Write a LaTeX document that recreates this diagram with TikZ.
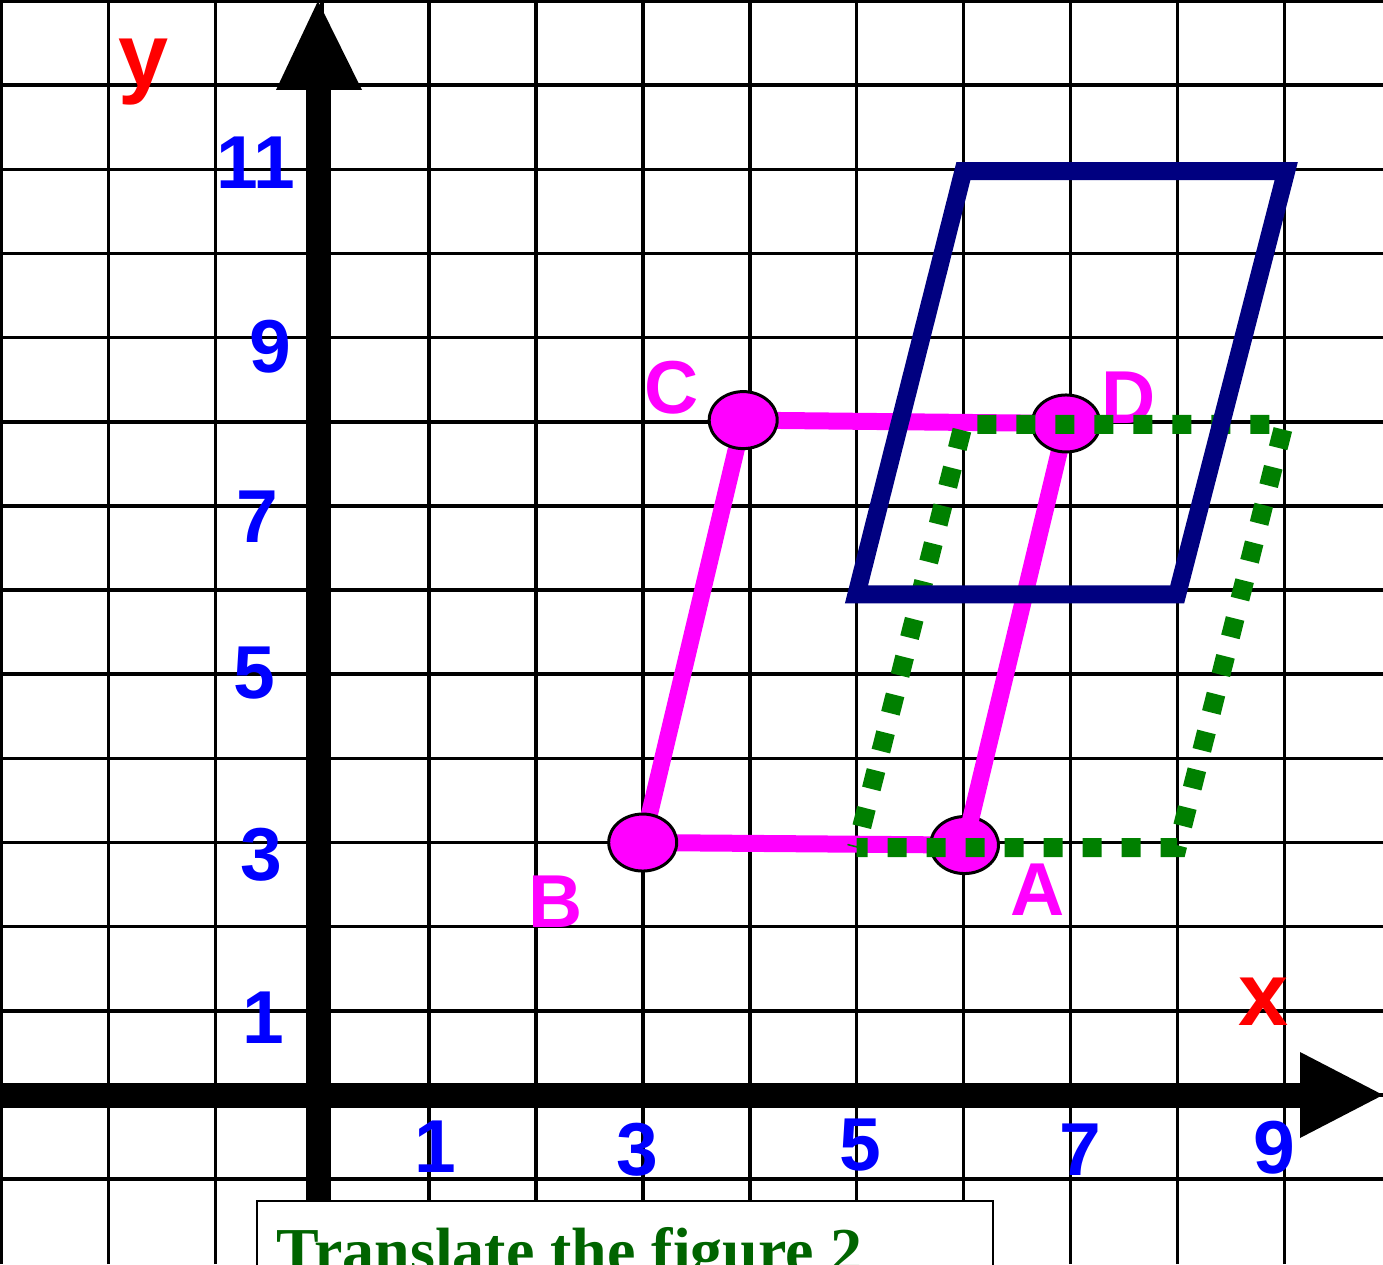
\documentclass[tikz,border=0pt]{standalone}
\usepackage{fontspec}
\setmainfont{Liberation Sans}
\newfontfamily\titlefont{Liberation Serif}
\usetikzlibrary{shapes.geometric}
\definecolor{pinkc}{RGB}{255,0,255}
\definecolor{bluec}{RGB}{0,0,255}
\definecolor{redc}{RGB}{255,0,0}
\definecolor{navyc}{RGB}{0,0,128}
\definecolor{greenc}{RGB}{0,128,0}
\definecolor{titlec}{RGB}{0,100,0}
\begin{document}
\begin{tikzpicture}[x=1pt,y=1pt,
  gridline/.style={line width=3.5pt,black},
  axisline/.style={line width=25pt,black},
  pinkline/.style={line width=17pt,pinkc},
  navyline/.style={line width=18pt,navyc,line join=miter},
  greendot/.style={line width=19pt,greenc,dash pattern=on 19pt off 20pt,dash phase=8pt},
  dotnode/.style={ellipse,minimum width=68pt,minimum height=57pt,inner sep=0pt,fill=pinkc,draw=black,line width=3pt},
  numlbl/.style={inner sep=0pt,text=bluec,font=\bfseries\fontsize{75}{75}\selectfont},
  axlbl/.style={inner sep=0pt,text=redc,font=\bfseries\fontsize{90}{90}\selectfont},
  ptlbl/.style={inner sep=0pt,text=pinkc,font=\bfseries\fontsize{75}{75}\selectfont}]
\useasboundingbox (0,0) rectangle (1383,1264);
\clip (0,0) rectangle (1383,1264);
\fill[white] (0,0) rectangle (1383,1264);
% grid
\foreach \k in {0,...,12} \draw[gridline] ({1.5+106.9*\k},0) -- ({1.5+106.9*\k},1264);
\foreach \k in {-1,...,13} \draw[gridline] (0,{169+84.15*\k}) -- (1383,{169+84.15*\k});
% axes
\coordinate (ybot) at (318,0);
\coordinate (ytop) at (318,1176);
\coordinate (xleft) at (0,169);
\coordinate (xright) at (1302,169);
\draw[axisline] (ybot) -- (ytop);
\fill[black] (276,1174) -- (362,1174) -- (318,1263) -- cycle;
\draw[axisline] (xleft) -- (xright);
\fill[black] (1300,212) -- (1300,126) -- (1383,169) -- cycle;
% axis labels
\node[axlbl] (ylab) at (144,1192) {y};
\node[axlbl] (xlab) at (1264,262) {x};
\node[numlbl] (y11) at (256,1101) {11};
\node[numlbl] (y9) at (270,917) {9};
\node[numlbl] (y7) at (257,747) {7};
\node[numlbl] (y5) at (254,591) {5};
\node[numlbl] (y3) at (261,409) {3};
\node[numlbl] (y1) at (263,246) {1};
\node[numlbl] (x1) at (435,117) {1};
\node[numlbl] (x3) at (637,114) {3};
\node[numlbl] (x5) at (860,119) {5};
\node[numlbl] (x7) at (1080,114) {7};
\node[numlbl] (x9) at (1274,116) {9};
% point labels
\node[ptlbl] (lC) at (672,876) {C};
\node[ptlbl] (lD) at (1129,866) {D};
\node[ptlbl] (lB) at (556,362) {B};
\node[ptlbl] (lA) at (1038,374) {A};
\begin{scope}[shift={(322pt,169pt)},x=106.9pt,y=84.15pt]
  \coordinate (A) at (6.01,2.97);
  \coordinate (B) at (3,3);
  \coordinate (C) at (3.94,8.02);
  \coordinate (D) at (6.96,7.98);
  \draw[pinkline] (B) -- (A);
  \draw[pinkline] (B) -- (C);
  \draw[pinkline] (C) -- (D);
  \node[dotnode] (nA) at (A) {};
  \draw[pinkline] (D) -- (nA.center);
  \node[dotnode] (nB) at (B) {};
  \node[dotnode] (nC) at (C) {};
  \node[dotnode] (nD) at (D) {};
  % green translated figure
  \coordinate (g1) at (5,2.94);
  \coordinate (g2) at (8,2.94);
  \coordinate (g3) at (9,7.97);
  \coordinate (g4) at (6,7.97);
  \draw[greendot] (g1) -- (g2) -- (g3) -- (g4) -- cycle;
  % navy figure
  \coordinate (n1) at (5,5.95);
  \coordinate (n2) at (8,5.95);
  \coordinate (n3) at (9.02,10.98);
  \coordinate (n4) at (6,10.98);
  \draw[navyline] (n1) -- (n2) -- (n3) -- (n4) -- cycle;
\end{scope}
% title box
\node[draw=black,line width=2pt,fill=white,anchor=north west,minimum width=736pt,minimum height=90pt,inner sep=0pt] (tbox) at (256,64) {};
\node[anchor=base west,inner sep=0pt,text=titlec,font=\titlefont\bfseries\fontsize{64}{64}\selectfont] (title) at (276,-8) {Translate the figure 2};
\end{tikzpicture}
\end{document}
